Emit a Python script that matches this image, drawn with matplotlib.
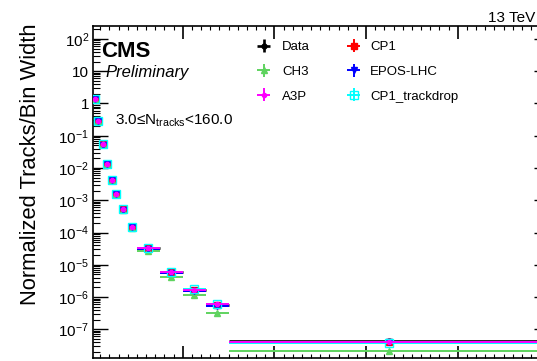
import numpy as np
import matplotlib
matplotlib.use("Agg")
import matplotlib.pyplot as plt
from matplotlib.ticker import FixedLocator, FuncFormatter, MultipleLocator, NullFormatter

plt.rcParams['font.family'] = ['Liberation Sans', 'DejaVu Sans']
plt.rcParams['mathtext.fontset'] = 'custom'
plt.rcParams['mathtext.rm'] = 'Liberation Sans'
plt.rcParams['mathtext.it'] = 'Liberation Sans:italic'
plt.rcParams['mathtext.bf'] = 'Liberation Sans:bold'

# ---- data ----
x_centers = [0.044, 0.073, 0.128, 0.178, 0.229, 0.276, 0.349, 0.45, 0.625, 0.875, 1.125, 1.375, 3.25]
x_halfw = [0, 0, 0, 0, 0, 0, 0, 0, 0.125, 0.125, 0.125, 0.125, 1.75]

data = [1.4, 0.29, 0.054, 0.0136, 0.0042, 1.6e-3, 5.3e-4, 1.5e-4, 3.2e-5, 5.8e-6, 1.65e-6, 5.8e-7, 4.3e-8]
ch3 = [1.4, 0.29, 0.054, 0.0135, 0.0041, 1.55e-3, 5.0e-4, 1.35e-4, 2.6e-5, 4.3e-6, 1.15e-6, 3.2e-7, 2.1e-8]
a3p = [1.4, 0.29, 0.054, 0.0137, 0.0042, 1.6e-3, 5.35e-4, 1.5e-4, 3.3e-5, 6.0e-6, 1.7e-6, 6.0e-7, 3.9e-8]
cp1 = [1.4, 0.29, 0.054, 0.0136, 0.0042, 1.6e-3, 5.3e-4, 1.5e-4, 3.2e-5, 5.9e-6, 1.65e-6, 5.7e-7, 3.9e-8]
epos = [1.4, 0.29, 0.053, 0.0134, 0.0041, 1.55e-3, 5.1e-4, 1.45e-4, 3.0e-5, 5.4e-6, 1.55e-6, 5.4e-7, 4.0e-8]
cp1_td = [1.4, 0.29, 0.054, 0.0136, 0.0042, 1.6e-3, 5.3e-4, 1.52e-4, 3.4e-5, 6.1e-6, 1.75e-6, 5.9e-7, 3.7e-8]

labels_col1 = ["Data", "CH3", "A3P"]
labels_col2 = ["CP1", "EPOS-LHC", "CP1_trackdrop"]

W, H = 537, 361
fig = plt.figure(figsize=(W / 100, H / 100), dpi=100)
ax = fig.add_axes([93.3 / W, 3 / H, (549.5 - 93.3) / W, (358 - 25.5) / H])

def eb(vals, color, marker, ms, mfc=None, label=None, z=2, lw=1.4, rel=0.08):
    v = np.array(vals)
    return ax.errorbar(x_centers, v, xerr=x_halfw, yerr=rel * v, fmt=marker, color=color,
                       ms=ms, mfc=mfc if mfc is not None else color, mec=color, mew=1.0,
                       elinewidth=lw, capsize=0, label=label, zorder=z)

h_data = eb(data, 'black', 'o', 3.5, label="Data", z=2, lw=1.9)
h_cp1 = eb(cp1, '#ff0000', 's', 4.5, label="CP1", z=3)
h_epos = eb(epos, '#0000ff', 'v', 4, label="EPOS-LHC", z=4)
h_ch3 = eb(ch3, '#5fd35f', '^', 4, label="CH3", z=3)
h_cp1td = eb(cp1_td, '#00ffff', 's', 6, mfc='none', label="CP1_trackdrop", z=5)
h_a3p = eb(a3p, '#ff00ff', 'o', 3, label="A3P", z=6)

ax.set_yscale('log')
ax.set_xlim(0.025, 5.0)
ax.set_ylim(10 ** -7.89, 10 ** 2.418)

ax.xaxis.set_major_locator(MultipleLocator(1))
ax.xaxis.set_minor_locator(MultipleLocator(0.1))
ax.xaxis.set_major_formatter(NullFormatter())

majors = [10.0 ** k for k in range(-7, 3)]
ax.yaxis.set_major_locator(FixedLocator(majors))
minors = [m * 10.0 ** k for k in range(-9, 3) for m in range(2, 10)]
ax.yaxis.set_minor_locator(FixedLocator(minors))

def yfmt(v, pos):
    k = int(round(np.log10(v)))
    if k == 0:
        return "1"
    if k == 1:
        return "10"
    return r"$10^{%d}$" % k
ax.yaxis.set_major_formatter(FuncFormatter(yfmt))
ax.yaxis.set_minor_formatter(NullFormatter())

ax.tick_params(which='both', direction='in', top=True, right=True)
ax.tick_params(axis='y', which='major', length=11, width=1.0, labelsize=11, pad=3)
ax.tick_params(axis='y', which='minor', length=5, width=0.8)
ax.tick_params(axis='x', which='major', length=9, width=1.2)
ax.tick_params(axis='x', which='minor', length=3, width=0.8)
for s in ax.spines.values():
    s.set_linewidth(1.2)

fig.text(31 / W, 1 - 164 / H, "Normalized Tracks/Bin Width", fontsize=15.8,
         rotation=90, ha='center', va='center')

fig.text(101 / W, 1 - 57 / H, "CMS", fontsize=16, fontweight='bold')
fig.text(105 / W, 1 - 77 / H, "Preliminary", fontsize=12, style='italic')
fig.text(115 / W, 1 - 125 / H, r"3.0≤N$_{\mathregular{tracks}}$<160.0", fontsize=11)
fig.text(535 / W, 1 - 22 / H, "13 TeV", fontsize=11, ha='right')

common = dict(frameon=False, fontsize=9.5, loc='upper left', bbox_transform=fig.transFigure,
              handlelength=1.9, handletextpad=0.45, labelspacing=0.94, borderpad=0,
              borderaxespad=0)
leg1 = ax.legend([h_data, h_ch3, h_a3p], labels_col1, bbox_to_anchor=(251 / W, 1 - 41 / H), **common)
ax.add_artist(leg1)
leg2 = ax.legend([h_cp1, h_epos, h_cp1td], labels_col2, bbox_to_anchor=(341 / W, 1 - 41 / H),
                 **dict(common, handletextpad=0.3))

fig.savefig("out.png", dpi=100)
